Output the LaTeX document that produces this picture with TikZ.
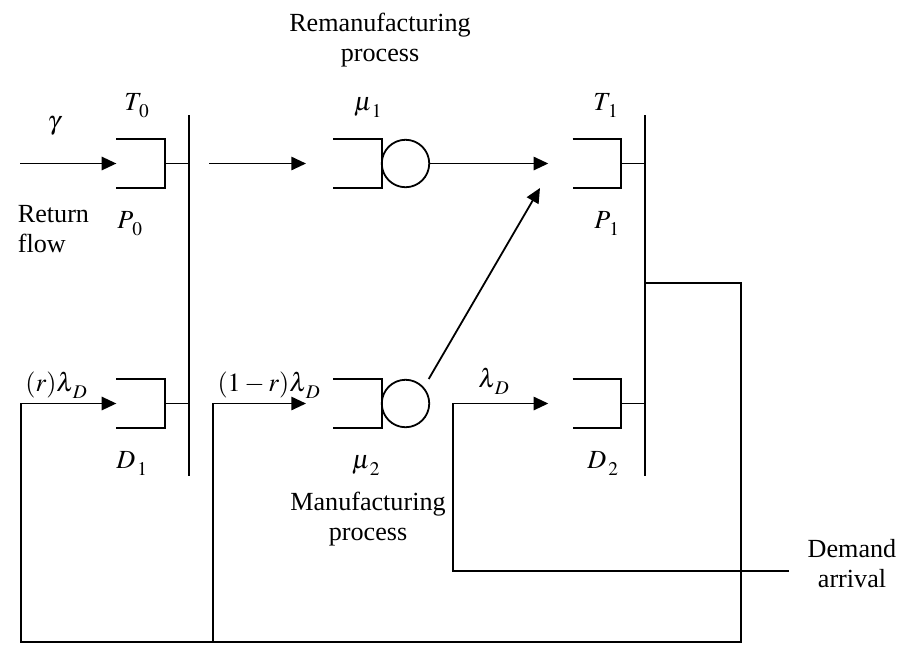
\documentclass[tikz,border=0pt]{standalone}
\usepackage{mathptmx}
\usepackage{fontspec}
\setmainfont{Liberation Serif}
\usetikzlibrary{arrows.meta}
\newcommand{\drawqueue}[1]{\draw (#1.north west) -- (#1.north east) -- (#1.south east) -- (#1.south west);}
\newcommand{\Sb}[1]{_{\kern1.6pt\raisebox{-2.5pt}{$\scriptstyle #1$}}}
\begin{document}
\begin{tikzpicture}[x=0.75pt,y=-0.75pt,line width=1.35pt,
  font={\fontsize{19.6}{22.5}\selectfont},
  lbl/.style={inner sep=0pt,anchor=base},
  qbox/.style={minimum width=36.5pt,minimum height=36.3pt,inner sep=0pt,outer sep=0pt},
  srv/.style={circle,draw,minimum size=35.6pt,inner sep=0pt,outer sep=0pt},
  arr/.style={-{Triangle[length=11pt,width=10pt]}}]
\useasboundingbox (0,0) rectangle (903,644);
% queues
\node[qbox] (q0) at (140.7,163.5) {};
\node[qbox] (qD1) at (140.7,403.5) {};
\node[qbox] (qM1) at (357.5,163.5) {};
\node[qbox] (qM2) at (357.5,403.5) {};
\node[qbox] (qT1) at (597,163.5) {};
\node[qbox] (qD2) at (597,403.5) {};
\drawqueue{q0}\drawqueue{qD1}\drawqueue{qM1}\drawqueue{qM2}\drawqueue{qT1}\drawqueue{qD2}
\node[srv] (c1) at (405.5,163.5) {};
\node[srv] (c2) at (405.5,403.5) {};
% bars
\coordinate (b0t) at (189,115);
\coordinate (b0b) at (189,476);
\coordinate (b1t) at (645.3,115);
\coordinate (b1b) at (645.3,476);
\draw (b0t) -- (b0b);
\draw (b1t) -- (b1b);
\draw (q0.east) -- (q0.east -| b0t);
\draw (qD1.east) -- (qD1.east -| b0t);
\draw (qT1.east) -- (qT1.east -| b1t);
\draw (qD2.east) -- (qD2.east -| b1t);
% free ends
\coordinate (gin) at (20,163.5);
\coordinate (m1s) at (209,163.5);
\coordinate (m1e) at (306,163.5);
\coordinate (t1e) at (548.3,163.5);
\coordinate (ds) at (428.7,379);
\coordinate (de) at (540,188);
\coordinate (br) at (645.3,283.3);
\coordinate (brc) at (741.3,283.3);
\coordinate (bl) at (21,642);
\coordinate (bm) at (213,642);
\coordinate (m2e) at (306,403.5);
\coordinate (dm) at (789,571);
\coordinate (dmc) at (452.7,571);
\coordinate (d2e) at (548.3,403.5);
% connectors
\draw[arr] (gin) -- (q0.west);
\draw[arr] (m1s) -- (m1e);
\draw[arr] (c1.east) -- (t1e);
\draw[arr] (ds) -- (de);
\draw[arr] (br) -- (brc) |- (bl) |- (qD1.west);
\draw[arr] (bm) |- (m2e);
\draw[arr] (dm) -- (dmc) |- (d2e);
% labels
\node[lbl] (gam) at (54,129) {$\gamma$};
\node[lbl] (T0) at (137,110) {$T\Sb{0}$};
\node[lbl] (P0) at (130,228) {$P\Sb{0}$};
\node[lbl,anchor=base west] (ret) at (17,222) {Return};
\node[lbl,anchor=base west] (flow) at (17,252) {flow};
\node[lbl] (rem1) at (380,31) {Remanufacturing};
\node[lbl] (rem2) at (380,61) {process};
\node[lbl] (mu1) at (368,110) {$\mu\Sb{1}$};
\node[lbl] (T1) at (606,110) {$T\Sb{1}$};
\node[lbl] (P1) at (607,228) {$P\Sb{1}$};
\node[lbl] (rl) at (56.5,391) {$(r)\lambda\Sb{D}$};
\node[lbl] (D1) at (132,468) {$D\Sb{1}$};
\node[lbl] (orl) at (269,391) {$(1-r)\lambda\Sb{D}$};
\node[lbl] (mu2) at (366,468) {$\mu\Sb{2}$};
\node[lbl] (man1) at (368,510) {Manufacturing};
\node[lbl] (man2) at (368,540) {process};
\node[lbl] (ld) at (494,387) {$\lambda\Sb{D}$};
\node[lbl] (D2) at (603,468) {$D\Sb{2}$};
\node[lbl] (dem1) at (852,557) {Demand};
\node[lbl] (dem2) at (852,587) {arrival};
\end{tikzpicture}
\end{document}
